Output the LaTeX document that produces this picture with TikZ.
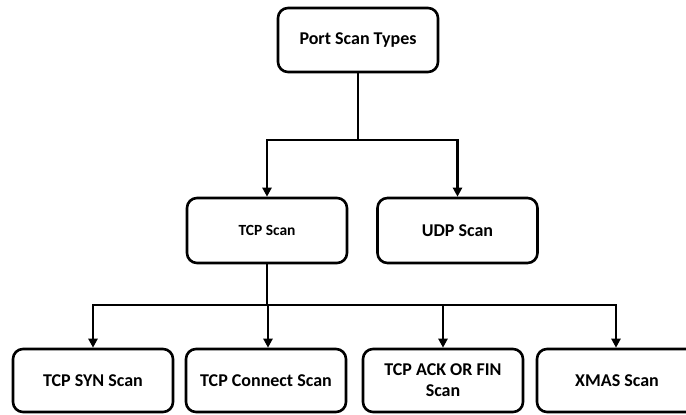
\documentclass[tikz,border=0pt]{standalone}
\usepackage{fontspec}
\setmainfont{Carlito}
\usetikzlibrary{arrows.meta}
\begin{document}
\begin{tikzpicture}[x=1pt,y=-1pt,
  box/.style={draw=black,line width=2.6pt,rounded corners=10pt,fill=white,
    minimum width=160pt,align=center,inner sep=0pt,font=\bfseries\fontsize{18}{21}\selectfont},
  conn/.style={line width=2.6pt},
  arr/.style={conn,-{Triangle[width=9pt,length=9pt]}}]
\useasboundingbox (0,0) rectangle (686,415);
\clip (0,0) rectangle (686,415);
\node[box,minimum height=64pt] (top) at (358,40) {Port Scan Types};
\node[box,minimum height=65pt,font=\bfseries\fontsize{15.5}{18}\selectfont] (tcp) at (267,230.5) {TCP Scan};
\node[box,minimum height=65pt] (udp) at (457.5,230.5) {UDP Scan};
\node[box,minimum height=63pt] (syn) at (93,380.5) {TCP SYN Scan};
\node[box,minimum height=63pt] (con) at (266,380.5) {TCP Connect Scan};
\node[box,minimum height=63pt] (ack) at (443,380.5) {TCP ACK OR FIN\\Scan};
\node[box,minimum height=63pt] (xmas) at (617,380.5) {XMAS Scan};
\coordinate (j1) at (358,140);
\coordinate (j2) at (267,305);
\draw[conn] (top.south) -- (j1);
\draw[arr] (j1) -| (tcp.north);
\draw[arr] (j1) -| (udp.north);
\draw[conn] (tcp.south) -- (j2);
\draw[arr] (j2) -| (syn.north);
\draw[arr] (j2) -| ([xshift=2pt]con.north);
\draw[arr] (j2) -| (ack.north);
\draw[arr] (j2) -| ([xshift=-1pt]xmas.north);
\end{tikzpicture}
\end{document}
